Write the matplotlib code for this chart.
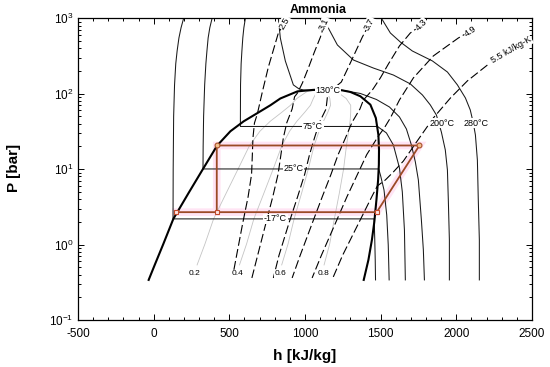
import matplotlib
matplotlib.use('Agg')
import matplotlib.pyplot as plt
from matplotlib.ticker import MultipleLocator, LogLocator, NullFormatter

plt.rcParams['font.family'] = ['Liberation Sans', 'DejaVu Sans']
plt.rcParams['mathtext.default'] = 'regular'
plt.rcParams['axes.unicode_minus'] = False

# saturation dome (liquid side -> critical point -> vapour side)
dome_h = [-33, 7, 64, 130, 231, 326, 419, 507, 595, 692, 771, 837, 950, 1055, 1130,
          1190, 1245, 1300, 1366, 1432, 1468, 1485, 1489, 1488, 1483, 1472, 1458, 1442, 1419, 1388]
dome_P = [0.34, 0.537, 1.02, 2.19, 4.84, 10.06, 20.5, 31.8, 43.1, 56.4, 70.3, 86.5, 107.5, 112.5, 114,
          113.3, 111, 105.5, 92.5, 71.6, 47.7, 28.4, 18.0, 11.4, 7.19, 3.91, 2.0, 1.15, 0.626, 0.34]

# isotherms
t_m17_h = [198, 181, 167, 155, 146, 138, 132, 129, 128, 1457, 1461, 1464, 1466]
t_m17_P = [1000, 750, 550, 369, 250, 131, 50, 10, 2.19, 2.19, 1.15, 0.626, 0.34]
t_25_h = [386, 371, 360, 352, 345, 337, 330, 327, 326, 1487, 1500, 1522, 1540, 1550, 1556]
t_25_P = [1000, 750, 550, 369, 250, 131, 50, 20, 10.06, 10.06, 8.13, 5.30, 2.47, 0.99, 0.34]
t_75_h = [606, 596, 589, 583, 578, 574, 573, 1479, 1538, 1584, 1624, 1643, 1657, 1663]
t_75_P = [1000, 750, 550, 369, 250, 131, 36.8, 36.8, 30.2, 20.9, 10.4, 4.99, 1.56, 0.34]
t_130_h = [824, 837, 870, 923, 960, 990, 1060, 1247, 1366, 1472, 1558, 1624, 1670, 1703, 1729, 1749, 1769, 1782, 1789]
t_130_P = [1000, 548, 272, 131, 116, 112, 111, 111, 100.8, 83.9, 66.7, 49.2, 34.1, 20.9, 12.5, 7.19, 2.12, 0.85, 0.34]
t_200_h = [1121, 1154, 1214, 1320, 1452, 1584, 1696, 1776, 1828, 1868, 1901, 1927, 1941, 1947, 1954, 1954]
t_200_P = [1000, 744, 443, 280, 219, 177, 135, 96.2, 71.0, 52.3, 31.1, 18.0, 9.76, 3.91, 1.15, 0.34]
t_280_h = [1505, 1564, 1630, 1709, 1842, 1941, 2007, 2060, 2092, 2112, 2126, 2139, 2145, 2152, 2152]
t_280_P = [1000, 639, 485, 369, 272, 194, 131, 87.8, 60.9, 40.9, 28.4, 13.2, 3.91, 1.15, 0.34]

# lines of constant quality
q_P = [0.537, 1.02, 2.19, 4.84, 10.06, 20.5, 31.8, 43.1, 56.4, 70.3, 86.5, 107.5, 114]
q02_h = [287, 339, 396, 480, 558, 633, 702, 770, 845, 904, 946, 1015, 1130]
q04_h = [567, 614, 662, 729, 790, 847, 898, 946, 997, 1036, 1055, 1079, 1130]
q06_h = [846, 888, 928, 978, 1022, 1060, 1093, 1122, 1150, 1169, 1164, 1144, 1130]
q08_h = [1126, 1163, 1194, 1227, 1255, 1274, 1288, 1298, 1302, 1302, 1272, 1208, 1130]

# isentropes [kJ/kg-K]
s25_h = [864, 824, 791, 758, 718, 685, 666, 656, 652, 647, 624, 588, 548, 520]
s25_P = [866, 639, 380, 226, 105.5, 53.9, 40.9, 25.9, 15.4, 8.56, 4.30, 1.90, 0.718, 0.361]
s31_h = [1128, 1102, 1062, 1022, 983, 950, 931, 915, 880, 857, 841, 822, 787, 741, 687, 649]
s31_P = [841, 565, 357, 219, 139, 102, 91.1, 62.8, 41.5, 26.1, 15.6, 8.56, 4.30, 1.90, 0.718, 0.361]
s37_h = [1425, 1379, 1333, 1287, 1240, 1201, 1174, 1148, 1139, 1095, 1063, 1030, 998, 951, 893, 828, 791]
s37_P = [841, 565, 357, 226, 143, 123, 112, 90.6, 62.8, 41.5, 26.1, 15.6, 8.56, 4.30, 1.90, 0.718, 0.361]
s43_h = [1769, 1696, 1624, 1551, 1498, 1445, 1386, 1363, 1310, 1268, 1219, 1172, 1114, 1047, 968, 915]
s43_P = [815, 639, 430, 248, 162, 112, 82.6, 62.8, 41.5, 26.1, 15.6, 8.56, 4.30, 1.90, 0.718, 0.361]
s49_h = [2093, 2013, 1848, 1716, 1624, 1564, 1524, 1485, 1408, 1347, 1277, 1200, 1108, 1047]
s49_P = [679, 548, 317, 162, 82.6, 47.7, 35.2, 27.5, 15.6, 8.56, 4.30, 1.90, 0.718, 0.361]
s55_h = [2205, 2073, 1961, 1848, 1742, 1650, 1584, 1531, 1478, 1441, 1353, 1248, 1184]
s55_P = [240, 148, 87.8, 47.7, 23.7, 12.8, 9.18, 7.19, 5.99, 4.30, 1.90, 0.718, 0.361]

# refrigeration cycle
cyc_h = [148, 1474, 1756, 417, 417]
cyc_P = [2.69, 2.69, 20.6, 20.6, 2.69]
sq_h = [148, 417, 1474]
sq_P = [2.69, 2.69, 2.69]
circ_h = [417, 1756]
circ_P = [20.6, 20.6]

fig = plt.figure(figsize=(5.5, 3.67), dpi=100)
ax = fig.add_axes([0.1418, 0.1281, 0.8255, 0.822])
ax.set_yscale('log')

box = dict(boxstyle='square,pad=0.08', fc='white', ec='none')
lab = dict(fontsize=6.5, ha='center', va='center', bbox=box, zorder=6)

for qh in [q02_h, q04_h, q06_h, q08_h]:
    ax.plot(qh, q_P, color='#c4c4c4', lw=0.6, zorder=1.5)

ax.plot(cyc_h, cyc_P, color='#ffe4f4', lw=5.5, solid_joinstyle='miter', zorder=1)

iso = [(t_m17_h, t_m17_P), (t_25_h, t_25_P), (t_75_h, t_75_P),
       (t_130_h, t_130_P), (t_200_h, t_200_P), (t_280_h, t_280_P)]
for th, tp in iso:
    ax.plot(th, tp, color='#1a1a1a', lw=0.75, zorder=2)

for sh, sp in [(s25_h, s25_P), (s31_h, s31_P), (s37_h, s37_P),
               (s43_h, s43_P), (s49_h, s49_P), (s55_h, s55_P)]:
    ax.plot(sh, sp, color='black', lw=0.8, ls=(0, (8, 3)), zorder=2)

ax.plot(dome_h, dome_P, color='black', lw=1.5, zorder=3)

ax.plot(cyc_h, cyc_P, color='#9c4a26', lw=1.3, zorder=4)
ax.plot(sq_h, sq_P, 's', ms=3.3, mfc='#ffe6e6', mec='#c04a2a', mew=0.8, zorder=5)
ax.plot(circ_h, circ_P, 'o', ms=3.5, mfc='#f2c28f', mec='#a8502a', mew=0.8, zorder=5)

# isotherm labels
ax.text(1151, 111.1, '130°C', **lab)
ax.text(1052, 36.8, '75°C', **lab)
ax.text(923, 10.06, '25°C', **lab)
ax.text(804, 2.19, '-17°C', **lab)
ax.text(1904, 40.9, '200°C', **lab)
ax.text(2129, 40.9, '280°C', **lab)

# quality labels
for qx, qt in zip([272, 551, 837, 1123], ['0.2', '0.4', '0.6', '0.8']):
    ax.text(qx, 0.408, qt, **dict(lab, fontsize=6))

# isentrope labels
ax.text(864, 866, '2.5', rotation=60, **lab)
ax.text(1128, 841, '3.1', rotation=65, **lab)
ax.text(1425, 841, '3.7', rotation=62, **lab)
ax.text(1769, 815, '4.3', rotation=45, **lab)
ax.text(2093, 679, '4.9', rotation=35, **lab)
ax.text(2363, 380, '5.5 kJ/kg-K', rotation=30, **lab)

ax.set_xlim(-500, 2500)
ax.set_ylim(0.1, 1000)
ax.xaxis.set_major_locator(MultipleLocator(500))
ax.xaxis.set_minor_locator(MultipleLocator(100))
ax.yaxis.set_major_locator(LogLocator(base=10, numticks=10))
ax.yaxis.set_minor_locator(LogLocator(base=10, subs=range(2, 10), numticks=20))
ax.yaxis.set_minor_formatter(NullFormatter())
ax.tick_params(which='both', direction='in', top=True, right=True, labelsize=8.5, width=0.7)
ax.tick_params(which='major', length=4)
ax.tick_params(which='minor', length=2)
ax.tick_params(axis='x', pad=6)
for sp in ax.spines.values():
    sp.set_linewidth(0.9)

ax.set_xlabel('h [kJ/kg]', fontsize=11, fontweight='bold')
ax.xaxis.label.set_va('center')
ax.xaxis.set_label_coords(0.5, -0.119)
ax.set_ylabel('P [bar]', fontsize=11, fontweight='bold')
ax.yaxis.label.set_va('center')
ax.yaxis.set_label_coords(-0.141, 0.505)

fig.text(318 / 550, 1 - 10 / 367, 'Ammonia', ha='center', va='center', fontsize=9, fontweight='bold')

fig.savefig('out.png', dpi=100)
